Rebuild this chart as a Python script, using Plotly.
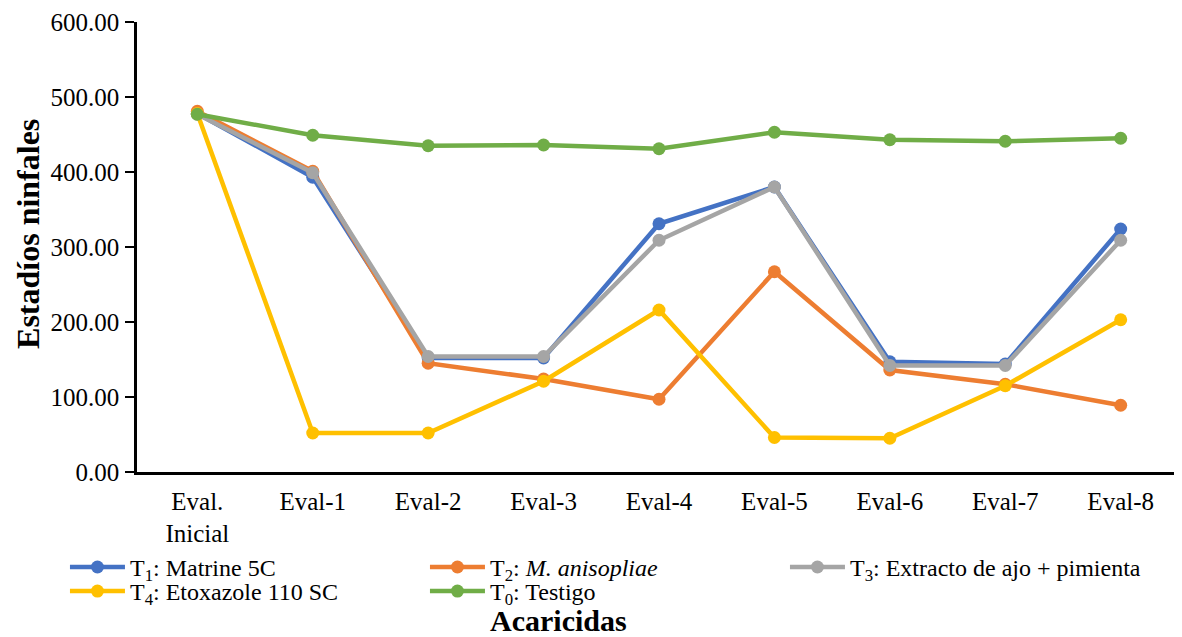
import plotly.graph_objects as go

categories = ["Eval.<br>Inicial", "Eval-1", "Eval-2", "Eval-3", "Eval-4", "Eval-5", "Eval-6", "Eval-7", "Eval-8"]
t1 = [478, 393, 152, 152, 331, 380, 147, 144, 324]
t2 = [481, 401, 145, 124, 97, 267, 136, 117, 89]
t3 = [477, 399, 154, 154, 309, 380, 142, 142, 309]
t4 = [478, 52, 52, 121, 216, 46, 45, 115, 203]
t0 = [477, 449, 435, 436, 431, 453, 443, 441, 445]

names = ["T<sub>1</sub>: Matrine 5C",
         "T<sub>2</sub>: <i>M. anisopliae</i>",
         "T<sub>3</sub>: Extracto de ajo + pimienta",
         "T<sub>4</sub>: Etoxazole 110 SC",
         "T<sub>0</sub>: Testigo"]
colors = ["#4472C4", "#ED7D31", "#A5A5A5", "#FFC000", "#70AD47"]
series = [t1, t2, t3, t4, t0]
legend_rows = ["legend", "legend", "legend", "legend2", "legend2"]

fig = go.Figure()
for nm, col, vals, lg in zip(names, colors, series, legend_rows):
    fig.add_trace(go.Scatter(
        x=categories, y=vals, name=nm, mode="lines+markers",
        line=dict(color=col, width=4.5),
        marker=dict(color=col, size=13),
        legend=lg,
    ))

ff = "Liberation Serif, Times New Roman, serif"
leg_common = dict(orientation="h", xanchor="left", yanchor="top",
                  entrywidth=290, entrywidthmode="pixels",
                  font=dict(family=ff, size=24, color="black"),
                  tracegroupgap=0, itemwidth=55, bgcolor="rgba(0,0,0,0)")
# page body has an 8px default margin; margins compensate so the plot area lands at 137..1181 x 22..472
fig.update_layout(
    width=1182, height=637,
    margin=dict(l=129, r=9, t=14, b=173, autoexpand=False),
    plot_bgcolor="white", paper_bgcolor="white",
    font=dict(family=ff, size=25, color="black"),
    showlegend=True,
    legend=dict(x=-0.069, y=-0.162, **leg_common),
    legend2=dict(x=-0.069, y=-0.2154, **leg_common),
    xaxis=dict(showline=True, linecolor="black", linewidth=2.5, showgrid=False,
               ticks="", ticklabelstandoff=5,
               tickfont=dict(family=ff, size=25, color="black"), zeroline=False),
    yaxis=dict(range=[0, 600], dtick=100, tickformat=".2f", showline=True,
               linecolor="black", linewidth=2.5, ticks="outside", ticklen=9,
               tickcolor="black", tickwidth=2, showgrid=False, zeroline=False,
               ticklabelstandoff=1,
               tickfont=dict(family=ff, size=25, color="black")),
    annotations=[
        dict(text="<b>Estadíos ninfales</b>", textangle=-90, xref="paper", yref="paper",
             x=-0.1044, y=0.529, xanchor="center", yanchor="middle", showarrow=False,
             font=dict(size=32, family=ff, color="black")),
        dict(text="<b>Acaricidas</b>", xref="paper", yref="paper",
             x=0.404, y=-0.3311, xanchor="center", yanchor="middle", showarrow=False,
             font=dict(size=30, family=ff, color="black")),
    ],
)

fig.write_html("out.html")
